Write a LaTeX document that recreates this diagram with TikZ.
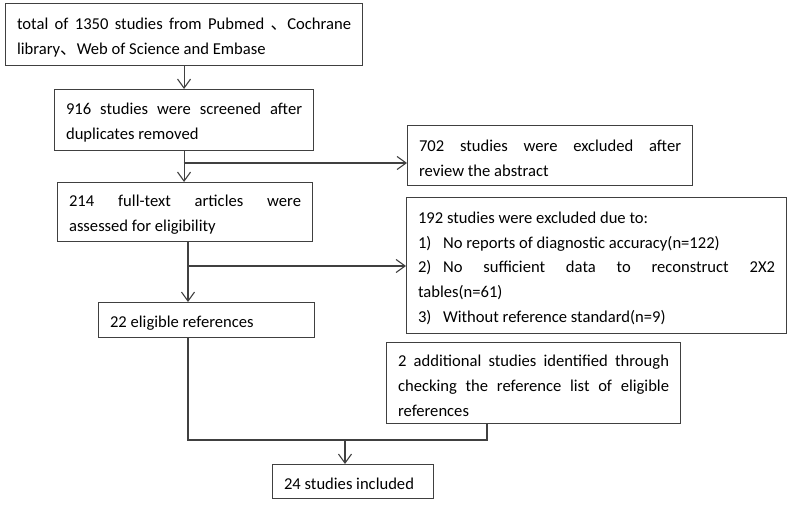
\documentclass[tikz,border=0pt]{standalone}
\usepackage{fontspec}
\setmainfont{Carlito}
\newfontfamily\cjk{Noto Sans CJK SC}
\usepackage{tikz}
\usetikzlibrary{arrows.meta}
\tikzstyle{box}=[draw=black!75,line width=1.1pt,anchor=north west,align=justify,inner xsep=11.5pt,inner ysep=2pt,font=\fontsize{16.6}{24.8}\selectfont,execute at begin node={\rule{0pt}{17pt}}]
\tikzstyle{edge} = [draw=black!75,line width=1.1pt,-]
\tikzstyle{arrow} = [edge,-{Straight Barb[length=9pt,width=13pt]}]

\begin{document}
\begin{tikzpicture}[x=1pt,y=-1pt]
    \useasboundingbox (0,0) rectangle (787,505);
    % Main column of the flow chart
    \node[box,text width=334pt,minimum height=62pt] (b1350) at (5,3)
        {total of 1350 studies from Pubmed {\cjk 、}Cochrane\linebreak library{\cjk 、}Web of Science and Embase};
    \node[box,text width=236pt,minimum height=61pt] (b916) at (54,89)
        {916 studies were screened after\linebreak duplicates removed};
    \node[box,text width=232pt,minimum height=59pt] (b214) at (57,182)
        {214 full-text articles were\linebreak assessed for eligibility};
    \node[box,text width=193pt,minimum height=35pt] (b22) at (98,302)
        {22 eligible references};
    \node[box,text width=138pt,minimum height=34pt] (b24) at (272,464)
        {24 studies included};
    % Side boxes
    \node[box,text width=262pt,minimum height=60pt] (b702) at (407,125)
        {702 studies were excluded after\linebreak review the abstract};
    \node[box,text width=357pt,minimum height=136pt] (b192) at (406,197)
        {192 studies were excluded due to:\\
         \makebox[25pt][l]{1)}No reports of diagnostic accuracy(n=122)\\
         \makebox[25pt][l]{2)}No sufficient data to reconstruct 2X2\linebreak
         tables(n=61)\\
         \makebox[25pt][l]{3)}Without reference standard(n=9)};
    \node[box,text width=271pt,minimum height=81pt] (badd) at (386,342)
        {2 additional studies identified through\linebreak checking the reference list of eligible\linebreak references};
    % Junction points of the connectors
    \coordinate (j702) at (183.5,163);
    \coordinate (j192) at (188,266);
    \coordinate (jl) at (188,440);
    \coordinate (jr) at (487,440);
    \coordinate (jm) at (345,440);
    % Connect boxes with arrows
    \path[arrow] (b1350) -- (b916);
    \path[arrow] (b916.south) -- (b916.south |- b214.north);
    \path[arrow] (j702) -- (b702.west |- j702);
    \path[arrow] (b214.south -| j192) -- (b22.north -| j192);
    \path[arrow] (j192) -- (b192.west |- j192);
    \path[edge] (b22.south -| jl) -- (jl) -- (jr) -- (badd.south -| jr);
    \path[arrow] (jm) -- (b24.north -| jm);
\end{tikzpicture}
\end{document}
